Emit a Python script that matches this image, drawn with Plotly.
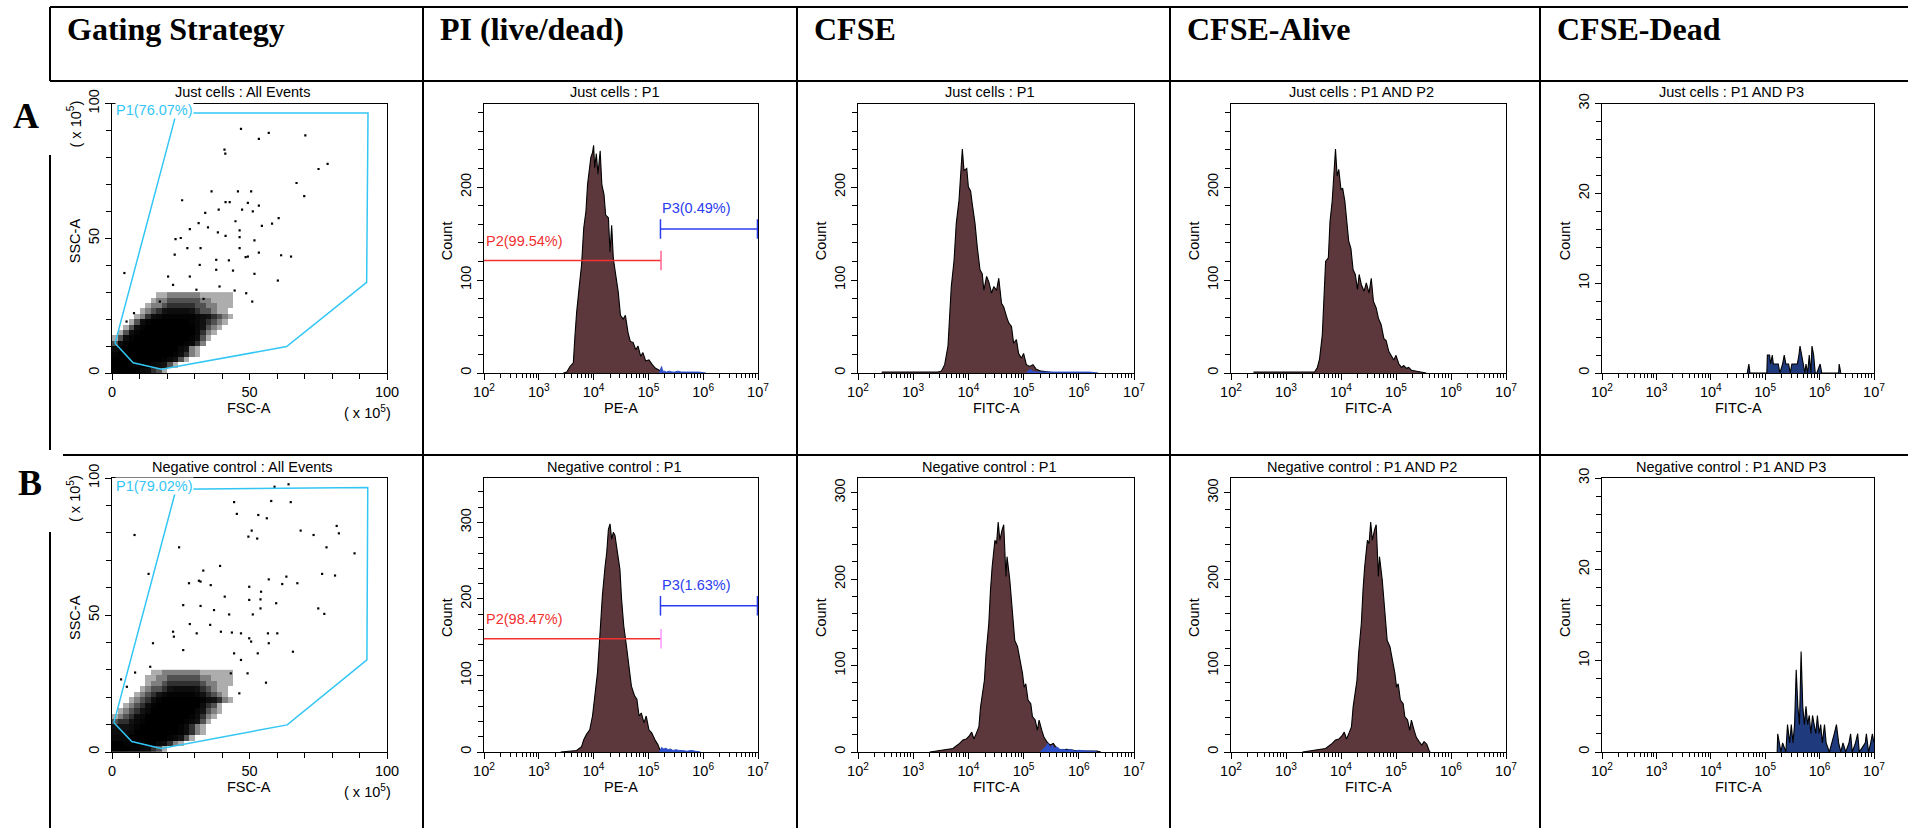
import plotly.graph_objects as go

W, H = 1908, 828
SANS = "Liberation Sans, Arial, sans-serif"
SERIF = "Liberation Serif, Times New Roman, serif"

# ---------------- text ----------------
headers = ["Gating Strategy", "PI (live/dead)", "CFSE", "CFSE-Alive", "CFSE-Dead"]
row_labels = ["A", "B"]
titles = [
    ["Just cells : All Events", "Just cells : P1", "Just cells : P1",
     "Just cells : P1 AND P2", "Just cells : P1 AND P3"],
    ["Negative control : All Events", "Negative control : P1", "Negative control : P1",
     "Negative control : P1 AND P2", "Negative control : P1 AND P3"],
]
x_titles = ["FSC-A", "PE-A", "FITC-A", "FITC-A", "FITC-A"]
p1_labels = ["P1(76.07%)", "P1(79.02%)"]
p2_labels = ["P2(99.54%)", "P2(98.47%)"]
p3_labels = ["P3(0.49%)", "P3(1.63%)"]

# ---------------- FSC/SSC (x 10^5) ----------------
# event density in 2x2 cells, x 0..44, rows listed from y 28-30 down to y 0-2 (0 = empty, 9 = saturated)
density_a = [
    "0000000011222222111111",
    "0000000122333333221111",
    "0000001223444443322111",
    "0000012345666654332110",
    "0000124678888887654321",
    "0001368999999987543210",
    "0013689999999997532100",
    "0136899999999997421000",
    "1368999999999986310000",
    "3689999999999874200000",
    "6899999999997521000000",
    "8999999999986421000000",
    "9999999998753100000000",
    "9999999765310000000000",
    "9999976431000000000000",
]
density_b = [
    "0000000112222222111111",
    "0000001122333333221111",
    "0000001223444444322111",
    "0000012334566665432110",
    "0000123457888887543210",
    "0001234689999999865421",
    "0012346899999999643100",
    "0123457999999997532100",
    "1234679999999986421000",
    "3445789999999875310000",
    "5556899999998642100000",
    "6667999999998642100000",
    "7779999999875310000000",
    "9988999976421000000000",
    "9998876431000000000000",
]
# isolated events outside the dense cloud
sparse_a_fsc = [46.9, 53.4, 57.0, 70.3, 40.9, 41.2, 78.4, 75.1, 67.1, 36.2, 45.8, 50.6, 69.9, 25.5,
                41.3, 42.8, 49.4, 47.3, 51.2, 33.9, 38.8, 53.4, 44.9, 60.6, 58.2, 54.5, 28.3, 31.5,
                34.9, 38.5, 41.3, 46.4, 46.4, 23.1, 25.0, 51.8, 32.2, 27.4, 46.4, 48.6, 49.4, 53.4,
                61.5, 65.1, 31.9, 22.8, 37.9, 42.5, 4.5, 60.3, 51.8, 44.0, 37.9, 28.3, 22.2, 17.4,
                20.4, 44.6, 48.8, 51.0, 8.0, 5.3, 33.3, 39.1, 30.7]
sparse_a_ssc = [90.6, 86.9, 89.1, 88.2, 82.9, 81.4, 77.6, 75.7, 70.5, 67.4, 67.4, 67.4, 65.6, 64.1,
                63.4, 63.4, 63.1, 60.6, 60.0, 59.4, 60.6, 62.1, 56.3, 57.5, 55.4, 54.6, 53.4, 55.6,
                54.0, 52.2, 50.9, 52.9, 50.4, 49.7, 50.1, 49.2, 46.3, 46.3, 46.3, 43.0, 43.2, 44.7,
                43.7, 43.2, 40.1, 43.9, 42.0, 41.8, 37.1, 34.3, 36.8, 38.0, 38.3, 35.8, 32.7, 26.5,
                35.8, 30.6, 29.6, 26.5, 22.2, 19.1, 27.5, 32.1, 30.9]
sparse_b_fsc = [64.2, 59.1, 44.4, 57.9, 65.0, 45.4, 53.2, 56.3, 8.2, 49.6, 52.8, 50.8, 68.6, 73.3,
                81.7, 82.5, 78.0, 88.2, 24.4, 39.3, 33.2, 31.6, 32.2, 13.3, 81.1, 76.4, 67.4, 63.4,
                57.0, 54.2, 49.9, 61.9, 28.0, 35.9, 41.0, 49.9, 54.0, 75.0, 77.2, 25.9, 32.2, 37.1,
                42.6, 51.2, 54.0, 59.7, 28.3, 22.2, 22.5, 30.8, 35.7, 39.6, 43.6, 46.9, 49.9, 50.6,
                56.7, 60.1, 57.0, 53.0, 65.8, 56.0, 14.9, 25.9, 13.9, 3.3, 8.4, 5.4, 44.4, 46.9,
                43.2, 49.3, 46.3]
sparse_b_ssc = [97.7, 96.8, 91.2, 91.6, 91.2, 86.9, 86.5, 85.3, 79.2, 78.6, 77.9, 80.8, 80.8, 79.2,
                82.5, 79.8, 74.7, 72.5, 74.7, 67.9, 66.2, 62.5, 62.2, 65.0, 64.4, 65.0, 61.6, 64.0,
                63.0, 58.5, 60.3, 61.3, 61.6, 60.9, 56.7, 55.5, 55.7, 52.4, 50.4, 53.6, 53.3, 51.8,
                50.2, 50.2, 52.4, 54.3, 46.7, 43.9, 42.1, 43.3, 46.4, 43.9, 43.6, 43.3, 41.5, 40.3,
                43.3, 43.3, 39.7, 36.0, 36.6, 25.3, 39.7, 37.2, 31.1, 26.5, 29.0, 23.8, 36.0, 33.6,
                28.7, 28.7, 21.4]
# P1 polygon gate
gate_a_fsc = [1.1, 23.4, 93.1, 92.6, 63.5, 18.0, 7.7, 1.1]
gate_a_ssc = [11.0, 96.5, 96.5, 33.6, 9.8, 1.4, 3.8, 11.0]
gate_b_fsc = [0.7, 23.3, 93.0, 92.7, 63.7, 17.9, 7.2, 0.7]
gate_b_ssc = [10.7, 95.9, 96.5, 33.6, 9.9, 1.3, 3.8, 10.7]

# ---------------- histograms (intensity in decades, counts) ----------------
a2_log = [3.45, 3.51, 3.57, 3.63, 3.66, 3.69, 3.74, 3.78, 3.82, 3.86, 3.89, 3.92, 3.95, 3.98, 4.00,
          4.02, 4.05, 4.08, 4.12, 4.15, 4.19, 4.22, 4.27, 4.30, 4.33, 4.36, 4.41, 4.45, 4.49, 4.54,
          4.58, 4.63, 4.67, 4.72, 4.77, 4.81, 4.86, 4.90, 4.95, 5.01, 5.07, 5.13, 5.20, 5.24, 5.28]
a2_cnt = [0, 1, 7, 11, 40, 65, 94, 116, 156, 174, 203, 221, 232, 237, 245, 221, 236, 214, 239, 203,
          192, 170, 167, 130, 159, 123, 101, 87, 62, 58, 62, 43, 34, 33, 25, 29, 18, 22, 13, 14,
          9, 5, 3, 1, 0]
a2_p3_log = [5.20, 5.24, 5.26, 5.29, 5.33, 5.38, 5.43, 5.48, 5.54, 5.60, 5.70, 5.80, 5.92, 6.05]
a2_p3_cnt = [0, 7, 2, 2, 1, 2, 1, 1, 2, 1, 1, 1, 1, 0]

a3_log = [2.43, 3.45, 3.51, 3.57, 3.63, 3.66, 3.69, 3.74, 3.78, 3.83, 3.86, 3.89, 3.92, 3.97, 4.00,
          4.04, 4.07, 4.12, 4.16, 4.21, 4.25, 4.28, 4.33, 4.37, 4.42, 4.46, 4.51, 4.55, 4.60, 4.64,
          4.69, 4.73, 4.78, 4.82, 4.87, 4.91, 4.96, 5.00, 5.05, 5.11, 5.17, 5.23, 5.32, 5.44, 5.60]
a3_cnt = [1, 1, 2, 9, 29, 61, 93, 121, 161, 186, 211, 241, 218, 220, 200, 196, 182, 161, 136, 111,
          107, 89, 104, 98, 86, 93, 89, 102, 75, 71, 61, 54, 50, 32, 36, 21, 16, 21, 9, 7,
          9, 4, 2, 1, 0]
a3_p3_log = [5.05, 5.12, 5.16, 5.22, 5.30, 5.45, 5.60, 5.80, 6.00, 6.20, 6.35]
a3_p3_cnt = [0, 4, 2, 1, 1, 1, 1, 1, 1, 1, 0]

a4_log = [2.41, 3.46, 3.52, 3.57, 3.61, 3.66, 3.69, 3.72, 3.77, 3.80, 3.84, 3.87, 3.90, 3.93, 3.96,
          4.00, 4.03, 4.07, 4.10, 4.14, 4.18, 4.22, 4.26, 4.30, 4.33, 4.37, 4.42, 4.46, 4.51, 4.55,
          4.59, 4.64, 4.68, 4.73, 4.78, 4.82, 4.87, 4.91, 4.96, 5.00, 5.05, 5.10, 5.14, 5.19, 5.23,
          5.28, 5.37, 5.46, 5.55]
a4_cnt = [1, 1, 1, 6, 15, 41, 77, 120, 124, 163, 185, 210, 241, 212, 219, 197, 199, 185, 167, 142,
          134, 111, 106, 90, 106, 95, 88, 97, 86, 102, 77, 70, 59, 52, 37, 35, 23, 19, 14, 19,
          10, 6, 8, 5, 6, 3, 2, 1, 0]

a5_log = [4.67, 4.70, 4.72, 5.03, 5.04, 5.08, 5.10, 5.13, 5.15, 5.18, 5.24, 5.27, 5.32, 5.35, 5.38,
          5.43, 5.46, 5.49, 5.52, 5.55, 5.59, 5.62, 5.64, 5.67, 5.70, 5.73, 5.75, 5.78, 5.81, 5.84,
          5.86, 5.89, 5.92, 5.95, 6.01, 6.04, 6.35, 6.36, 6.39]
a5_cnt = [0, 1, 0, 0, 2, 2, 1, 2, 1, 1, 1, 0, 1, 2, 1, 1, 0, 1, 1, 1, 1, 2, 3, 2, 1, 0, 1, 0, 2, 0,
          3, 2, 0, 0, 1, 0, 0, 1, 0]

b2_log = [3.40, 3.51, 3.69, 3.78, 3.82, 3.87, 3.93, 3.98, 4.02, 4.07, 4.11, 4.16, 4.21, 4.24, 4.27,
          4.30, 4.33, 4.36, 4.39, 4.43, 4.48, 4.51, 4.55, 4.60, 4.65, 4.69, 4.75, 4.79, 4.83, 4.87,
          4.92, 4.96, 5.01, 5.06, 5.12, 5.17, 5.21, 5.24]
b2_cnt = [0, 1, 2, 7, 16, 23, 29, 47, 69, 103, 147, 204, 243, 261, 291, 298, 278, 287, 283, 265,
          239, 200, 165, 138, 112, 86, 73, 69, 47, 51, 38, 47, 29, 25, 16, 10, 3, 0]
b2_p3_log = [5.20, 5.24, 5.28, 5.32, 5.36, 5.40, 5.45, 5.50, 5.56, 5.62, 5.70, 5.78, 5.86, 5.95]
b2_p3_cnt = [0, 6, 4, 5, 3, 4, 2, 3, 2, 2, 1, 2, 1, 0]

b3_log = [3.30, 3.41, 3.59, 3.72, 3.84, 3.90, 3.96, 4.02, 4.06, 4.10, 4.14, 4.19, 4.22, 4.26, 4.29,
          4.32, 4.37, 4.40, 4.43, 4.48, 4.51, 4.54, 4.57, 4.61, 4.64, 4.68, 4.70, 4.75, 4.80, 4.84,
          4.89, 4.93, 4.98, 5.01, 5.04, 5.08, 5.13, 5.16, 5.21, 5.25, 5.28, 5.33, 5.37, 5.42, 5.48,
          5.54, 5.60, 5.66, 5.78, 5.91, 6.09, 6.33, 6.40]
b3_cnt = [0, 1, 2, 4, 10, 14, 15, 19, 23, 15, 21, 29, 52, 68, 83, 114, 149, 187, 214, 245,
          241, 266, 245, 257, 263, 203, 226, 199, 160, 129, 122, 110, 91, 75, 79, 60, 56, 41, 37, 25,
          37, 25, 17, 12, 8, 10, 4, 2, 3, 2, 1, 1, 0]
b3_p3_log = [5.30, 5.36, 5.40, 5.44, 5.48, 5.52, 5.56, 5.60, 5.66, 5.72, 5.78, 5.85, 5.92, 6.00,
             6.08, 6.15, 6.25, 6.33]
b3_p3_cnt = [0, 3, 6, 10, 5, 8, 4, 6, 3, 3, 2, 3, 1, 2, 1, 1, 1, 0]

b4_log = [3.30, 3.41, 3.59, 3.72, 3.84, 3.90, 3.96, 4.02, 4.06, 4.10, 4.14, 4.19, 4.22, 4.26, 4.29,
          4.32, 4.37, 4.40, 4.43, 4.48, 4.51, 4.54, 4.57, 4.61, 4.64, 4.68, 4.70, 4.75, 4.80, 4.84,
          4.89, 4.93, 4.98, 5.01, 5.04, 5.08, 5.13, 5.16, 5.21, 5.25, 5.28, 5.33, 5.37, 5.42, 5.47,
          5.51, 5.56, 5.60, 5.62]
b4_cnt = [0, 1, 2, 4, 10, 14, 15, 19, 23, 15, 21, 29, 52, 68, 83, 114, 149, 187, 214, 245,
          241, 266, 245, 257, 263, 203, 226, 199, 160, 129, 122, 110, 91, 75, 79, 60, 56, 41, 37, 25,
          37, 25, 17, 12, 8, 12, 9, 2, 0]

b5_log = [5.22, 5.23, 5.26, 5.29, 5.32, 5.38, 5.41, 5.45, 5.48, 5.51, 5.54, 5.57, 5.60, 5.63, 5.66,
          5.69, 5.72, 5.75, 5.78, 5.81, 5.84, 5.87, 5.90, 5.93, 5.96, 5.99, 6.02, 6.05, 6.09, 6.12,
          6.18, 6.23, 6.27, 6.31, 6.35, 6.39, 6.43, 6.48, 6.54, 6.57, 6.60, 6.66, 6.70, 6.73, 6.84,
          6.86, 6.90, 6.94, 6.97, 7.0]
b5_cnt = [0, 2, 1, 0, 1, 0, 3, 1, 3, 1, 3, 9, 5, 3, 11, 5, 3, 5, 3, 4, 2, 4, 3, 2, 4, 2, 3, 1, 3, 1,
          0, 1, 2, 3, 1, 0, 1, 0, 1, 2, 0, 1, 2, 0, 1, 2, 0, 1, 2, 1]

# PI gates: P2 (alive) and P3 (dead) markers, in decades, with their count level
p2_gate = [2.0, 5.23]
p3_gate = [5.22, 6.99]
p2_level = [121, 148]
p3_level = [155, 191]

# count axis maxima per panel
count_max = [[None, 290, 290, 290, 30], [None, 358, 317, 317, 30]]

# ---------------- layout geometry (pixels) ----------------
col_x = [(112, 387), (484, 758), (858, 1134), (1231, 1506), (1602, 1874)]
row_y = [(103.5, 373), (478, 752)]
col_lines = [50, 423, 797, 1170, 1540]

BROWN = "#5c383d"
NAVY = "#1f3b7d"
CYAN = "#33c6f4"
RED = "#f23030"
BLUE = "#2b3cf0"
P3BLUE = "#2f4fc8"
FS = 14.5


def px(x):
    return x / W


def py(y):
    return 1 - y / H


fig = go.Figure()
tick_font = dict(family=SANS, size=FS, color="black")
annotations = []
shapes = []


def paper_text(x, y, text, font, angle=0, xanchor="center"):
    annotations.append(dict(x=px(x), y=py(y), xref="paper", yref="paper", text=text,
                            showarrow=False, textangle=angle, font=font,
                            xanchor=xanchor, yanchor="middle"))


def hist_trace(ax, logs, counts, fill, line="black", width=1.1):
    fig.add_trace(go.Scatter(
        x=[10 ** v for v in logs], y=counts, mode="lines",
        line=dict(color=line, width=width), fill="tozeroy", fillcolor=fill,
        xaxis=f"x{ax}", yaxis=f"y{ax}", hoverinfo="skip", showlegend=False))


hist_data = {
    (0, 1): (a2_log, a2_cnt, a2_p3_log, a2_p3_cnt),
    (0, 2): (a3_log, a3_cnt, a3_p3_log, a3_p3_cnt),
    (0, 3): (a4_log, a4_cnt, None, None),
    (0, 4): (a5_log, a5_cnt, None, None),
    (1, 1): (b2_log, b2_cnt, b2_p3_log, b2_p3_cnt),
    (1, 2): (b3_log, b3_cnt, b3_p3_log, b3_p3_cnt),
    (1, 3): (b4_log, b4_cnt, None, None),
    (1, 4): (b5_log, b5_cnt, None, None),
}

log_minor = [m * 10 ** k for k in range(2, 7) for m in range(2, 10)]

n = 0
for r in range(2):
    y0, y1 = row_y[r]
    for c in range(5):
        n += 1
        x0, x1 = col_x[c]
        xa = dict(domain=[px(x0), px(x1)], anchor=f"y{n}", showline=True, linecolor="black",
                  linewidth=1, mirror=True, ticks="outside", ticklen=6, tickcolor="black",
                  tickfont=tick_font, showgrid=False, zeroline=False, fixedrange=True,
                  automargin=False)
        ya = dict(domain=[py(y1), py(y0)], anchor=f"x{n}", showline=True, linecolor="black",
                  linewidth=1, mirror=True, ticks="outside", ticklen=6, tickcolor="black",
                  tickfont=tick_font, tickangle=-90, showgrid=False, zeroline=False,
                  fixedrange=True, automargin=False)
        if c == 0:
            xa.update(range=[0, 100], tickmode="array", tickvals=[0, 50, 100],
                      minor=dict(tickmode="array", tickvals=list(range(10, 100, 10)),
                                 ticks="outside", ticklen=5, tickcolor="black"))
            ya.update(range=[0, 100], tickmode="array", tickvals=[0, 50, 100],
                      minor=dict(tickmode="array", tickvals=list(range(10, 100, 10)),
                                 ticks="outside", ticklen=5, tickcolor="black"))
            rows = density_a if r == 0 else density_b
            grid = [[int(ch) for ch in row] for row in reversed(rows)]
            fig.add_trace(go.Heatmap(
                z=grid, x=[2 * i + 1 for i in range(len(grid[0]))],
                y=[2 * j + 1 for j in range(len(grid))], zmin=0, zmax=9, showscale=False,
                colorscale=[[0, "rgba(0,0,0,0)"], [0.05, "rgba(0,0,0,0)"],
                            [0.11, "rgba(0,0,0,0.32)"], [0.33, "rgba(0,0,0,0.68)"],
                            [0.55, "rgba(0,0,0,0.93)"], [1, "rgba(0,0,0,1)"]],
                xaxis=f"x{n}", yaxis=f"y{n}", hoverinfo="skip"))
            sx = sparse_a_fsc if r == 0 else sparse_b_fsc
            sy = sparse_a_ssc if r == 0 else sparse_b_ssc
            fig.add_trace(go.Scatter(x=sx, y=sy, mode="markers",
                                     marker=dict(symbol="square", size=2.2, color="black"),
                                     xaxis=f"x{n}", yaxis=f"y{n}", hoverinfo="skip",
                                     showlegend=False))
            gx = gate_a_fsc if r == 0 else gate_b_fsc
            gy = gate_a_ssc if r == 0 else gate_b_ssc
            fig.add_trace(go.Scatter(x=gx, y=gy, mode="lines", line=dict(color=CYAN, width=1.5),
                                     xaxis=f"x{n}", yaxis=f"y{n}", hoverinfo="skip",
                                     showlegend=False))
            annotations.append(dict(x=1.0, y=gy[1] + 1.0, xref=f"x{n}", yref=f"y{n}",
                                    text=p1_labels[r], showarrow=False, xanchor="left",
                                    yanchor="middle", bgcolor="white", borderpad=0,
                                    font=dict(family=SANS, size=FS, color=CYAN)))
            # scale factor labels
            paper_text(x1 - 20, y1 + 39, "( x 10<sup>5</sup>)", tick_font)
            paper_text(x0 - 38, y0 + 21, "( x 10<sup>5</sup>)", tick_font, angle=-90)
            y_title = "SSC-A"
        else:
            ymax = count_max[r][c]
            xa.update(type="log", range=[2, 7], tickmode="array",
                      tickvals=[10 ** k for k in range(2, 8)],
                      ticktext=[f"10<sup>{k}</sup>" for k in range(2, 8)],
                      minor=dict(tickmode="array", tickvals=log_minor, ticks="outside",
                                 ticklen=4, tickcolor="black"))
            if ymax <= 30:
                ya.update(range=[0, ymax], tickmode="array", tickvals=[0, 10, 20, 30],
                          minor=dict(tickmode="array", tickvals=list(range(2, 30, 2)),
                                     ticks="outside", ticklen=5, tickcolor="black"))
            else:
                ya.update(range=[0, ymax], tickmode="array",
                          tickvals=[v for v in (0, 100, 200, 300) if v <= ymax],
                          minor=dict(tickmode="array",
                                     tickvals=[v for v in range(20, int(ymax) + 1, 20)
                                               if v % 100],
                                     ticks="outside", ticklen=5, tickcolor="black"))
            logs, cnts, p3l, p3c = hist_data[(r, c)]
            hist_trace(n, logs, cnts, NAVY if c == 4 else BROWN)
            if p3l is not None:
                hist_trace(n, p3l, p3c, P3BLUE, line=P3BLUE, width=1)
            if c == 1:
                lv2, lv3 = p2_level[r], p3_level[r]
                fig.add_trace(go.Scatter(x=[10 ** v for v in p2_gate], y=[lv2, lv2],
                                         mode="lines", line=dict(color=RED, width=1.5),
                                         xaxis=f"x{n}", yaxis=f"y{n}", hoverinfo="skip",
                                         showlegend=False))
                fig.add_trace(go.Scatter(x=[10 ** p2_gate[1]], y=[lv2], mode="markers",
                                         marker=dict(symbol="line-ns-open", size=14,
                                                     line=dict(color=RED, width=1.5)),
                                         xaxis=f"x{n}", yaxis=f"y{n}", hoverinfo="skip",
                                         showlegend=False))
                fig.add_trace(go.Scatter(x=[10 ** v for v in p3_gate], y=[lv3, lv3],
                                         mode="lines+markers", line=dict(color=BLUE, width=1.5),
                                         marker=dict(symbol="line-ns-open", size=14,
                                                     line=dict(color=BLUE, width=1.5)),
                                         xaxis=f"x{n}", yaxis=f"y{n}", hoverinfo="skip",
                                         showlegend=False))
                annotations.append(dict(x=p2_gate[0], y=lv2, xref=f"x{n}", yref=f"y{n}",
                                        text=p2_labels[r], showarrow=False, xanchor="left",
                                        yanchor="middle", yshift=20,
                                        font=dict(family=SANS, size=FS, color=RED)))
                annotations.append(dict(x=p3_gate[0], y=lv3, xref=f"x{n}", yref=f"y{n}",
                                        text=p3_labels[r], showarrow=False, xanchor="left",
                                        yanchor="middle", yshift=21,
                                        font=dict(family=SANS, size=FS, color=BLUE)))
            y_title = "Count"

        fig.layout[f"xaxis{n}"] = xa
        fig.layout[f"yaxis{n}"] = ya

        # panel title and axis titles
        paper_text((x0 + x1) / 2 - 7, y0 - 11, titles[r][c], tick_font)
        paper_text((x0 + x1) / 2, y1 + 35, x_titles[c], tick_font)
        paper_text(x0 - 37, (y0 + y1) / 2 + 3, y_title, tick_font, angle=-90)

# column headers
for c, h in enumerate(headers):
    paper_text(col_lines[c] + 15, 29, f"<b>{h}</b>",
               dict(family=SERIF, size=32, color="black"), xanchor="left")
# row labels
for (lx, ly), lab in zip([(26, 116), (30, 483)], row_labels):
    paper_text(lx, ly, f"<b>{lab}</b>", dict(family=SERIF, size=36, color="black"))


# table rules
def rule(xa_, ya_, xb_, yb_):
    shapes.append(dict(type="line", xref="paper", yref="paper", x0=px(xa_), y0=py(ya_),
                       x1=px(xb_), y1=py(yb_), line=dict(color="black", width=2)))


rule(50, 7, W, 7)
rule(50, 81, W, 81)
rule(63, 455, W, 455)
for xl in col_lines[1:]:
    rule(xl, 7, xl, H)
rule(50, 7, 50, 81)
rule(50, 155, 50, 450)
rule(50, 532, 50, H)

fig.update_layout(width=W, height=H,
                  margin=dict(l=0, r=0, t=0, b=0, pad=0, autoexpand=False),
                  paper_bgcolor="white", plot_bgcolor="white", showlegend=False,
                  annotations=annotations, shapes=shapes,
                  font=dict(family=SANS, size=FS, color="black"))

fig.write_html("out.html",
               post_script="document.body.style.margin='0';"
                           "document.documentElement.style.overflow='hidden';")
